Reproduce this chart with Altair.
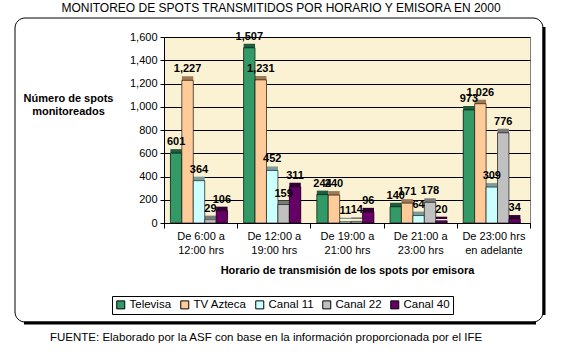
import altair as alt
import pandas as pd

categories = [
    "De 6:00 a\n12:00 hrs",
    "De 12:00 a\n19:00 hrs",
    "De 19:00 a\n21:00 hrs",
    "De 21:00 a\n23:00 hrs",
    "De 23:00 hrs\nen adelante",
]
series = ["Televisa", "TV Azteca", "Canal 11", "Canal 22", "Canal 40"]
televisa = [601, 1507, 244, 140, 973]
tv_azteca = [1227, 1231, 240, 171, 1026]
canal_11 = [364, 452, 11, 64, 309]
canal_22 = [29, 159, 14, 178, 776]
canal_40 = [106, 311, 96, 20, 34]
y_ticks = [0, 200, 400, 600, 800, 1000, 1200, 1400, 1600]
title_text = "MONITOREO DE SPOTS TRANSMITIDOS POR HORARIO Y EMISORA EN 2000"
source_text = "FUENTE: Elaborado por la ASF con base en la información proporcionada por el IFE"

colors = ["#339966", "#FFCC99", "#CCFFFF", "#C0C0C0", "#660066"]
shades = {"Televisa": "#1E5E3E", "TV Azteca": "#A07A55", "Canal 11": "#7C9C9C",
          "Canal 22": "#7A7A7A", "Canal 40": "#330033"}

rows = []
for s, vals in zip(series, [televisa, tv_azteca, canal_11, canal_22, canal_40]):
    for c, v in zip(categories, vals):
        rows.append({"cat": c, "serie": s, "val": v, "shade": shades[s],
                     "lab": f"{v:,}"})
df = pd.DataFrame(rows)

FONT = "Liberation Sans"
W, H = 366, 186

x_enc = alt.X("cat:N", sort=categories,
              scale=alt.Scale(paddingInner=0, paddingOuter=0),
              axis=alt.Axis(title="Horario de transmisión de los spots por emisora",
                            labelExpr="split(datum.label, '\\n')",
                            labelAngle=0, labelFont=FONT, labelFontSize=11,
                            labelLineHeight=14, labelPadding=2, labelColor="black",
                            tickBand="extent", tickSize=5, tickColor="black",
                            domainColor="black", titleFont=FONT, titleFontSize=11,
                            titleFontWeight="bold", titleColor="black",
                            titleBaseline="middle", titleY=47, grid=False))
xo_enc = alt.XOffset("serie:N", sort=series,
                     scale=alt.Scale(paddingInner=0, paddingOuter=0.7, align=0.4))
y_enc = alt.Y("val:Q", scale=alt.Scale(domain=[0, 1600], nice=False),
              axis=alt.Axis(values=y_ticks, format=",.0f",
                            title=["Número de spots", "monitoreados"],
                            titleAngle=0, titleX=-96, titleY=55, titleAlign="center",
                            titleBaseline="top", titleFont=FONT, titleFontSize=11,
                            titleFontWeight="bold", titleColor="black", titleLineHeight=13,
                            labelFont=FONT, labelFontSize=11, labelColor="black",
                            labelPadding=3, tickSize=4, tickColor="black",
                            domainColor="black", grid=True, gridColor="black",
                            gridWidth=1))

base = alt.Chart(df)

shadow = base.mark_bar(xOffset=4, yOffset=-4).encode(
    x=x_enc, xOffset=xo_enc, y=y_enc,
    fill=alt.Fill("shade:N", scale=None, legend=None),
)
bars = base.mark_bar(stroke="black", strokeWidth=0.6).encode(
    x=x_enc, xOffset=xo_enc, y=y_enc,
    color=alt.Color("serie:N", sort=series,
                    scale=alt.Scale(domain=series, range=colors),
                    legend=alt.Legend(orient="none", legendX=-52, legendY=259,
                                      direction="horizontal", title=None,
                                      strokeColor="black", padding=3,
                                      symbolType="square", symbolSize=64,
                                      symbolStrokeColor="black", symbolStrokeWidth=1,
                                      symbolOpacity=1, labelFont=FONT,
                                      labelFontSize=11.5, labelColor="black",
                                      columnPadding=6, labelOffset=3)),
)
labels = base.mark_text(font=FONT, fontSize=11, fontWeight="bold", dy=-11,
                        color="black").encode(
    x=x_enc, xOffset=xo_enc, y=y_enc, text="lab:N")

one = pd.DataFrame({"k": [0]})
frame = alt.Chart(one).mark_rect(
    fill=None, stroke="black", strokeWidth=1, cornerRadius=10).encode(
    x=alt.value(-149), x2=alt.value(379), y=alt.value(-19), y2=alt.value(285))
shadow_r = alt.Chart(one).mark_rule(color="black", strokeWidth=3).encode(
    x=alt.value(380), y=alt.value(-10), y2=alt.value(278))
shadow_b = alt.Chart(one).mark_rule(color="black", strokeWidth=3).encode(
    x=alt.value(-140), x2=alt.value(372), y=alt.value(286))
title = alt.Chart(pd.DataFrame({"t": [title_text]})).mark_text(
    font=FONT, fontSize=12, align="center", baseline="middle", color="black").encode(
    x=alt.value(117), y=alt.value(-29), text="t:N")
foot = alt.Chart(pd.DataFrame({"t": [source_text]})).mark_text(
    font=FONT, fontSize=11.5, align="left", baseline="middle", color="black").encode(
    x=alt.value(-114), y=alt.value(301), text="t:N")

chart = alt.layer(frame, shadow_r, shadow_b, shadow, bars, labels, title, foot).properties(
    width=W, height=H,
    autosize=alt.AutoSizeParams(type="none"),
    padding={"left": 164, "top": 37, "right": 32, "bottom": 134},
    background="white",
).configure_view(fill="#FBF2D3", stroke="#808080")

chart.save("out.html", embed_options={"renderer": "svg", "actions": False})
